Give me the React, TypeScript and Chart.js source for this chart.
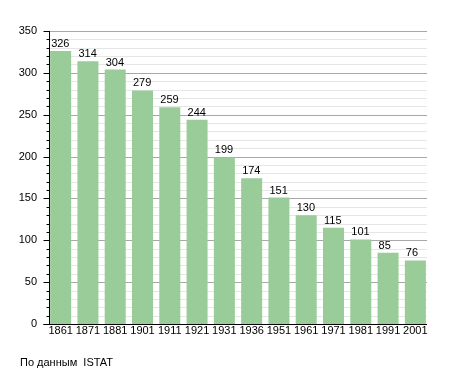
import React, { useEffect, useRef } from "react";
import { Chart, registerables } from "chart.js";

Chart.register(...registerables);

const years = ["1861", "1871", "1881", "1901", "1911", "1921", "1931", "1936", "1951", "1961", "1971", "1981", "1991", "2001"];
const population = [326, 314, 304, 279, 259, 244, 199, 174, 151, 130, 115, 101, 85, 76];
const yMin = 0;
const yMax = 350;
const yMajorStep = 50;
const yMinorStep = 10;
const sourceNote = "По данным  ISTAT";

const FONT = "'Liberation Sans', Arial, sans-serif";

const decorPlugin = {
  id: "decor",
  beforeDatasetsDraw(chart: any) {
    const { ctx } = chart;
    const y = chart.scales.y;
    const meta = chart.getDatasetMeta(0);
    const first = meta.data[0] as any;
    const last = meta.data[meta.data.length - 1] as any;
    const x0 = Math.round(first.x - first.width / 2);
    const x1 = Math.round(last.x + last.width / 2) + 1;
    ctx.save();
    ctx.lineWidth = 1;
    for (let v = yMin + yMinorStep; v <= yMax; v += yMinorStep) {
      const py = Math.round(y.getPixelForValue(v)) + 0.5;
      ctx.strokeStyle = v % yMajorStep === 0 ? "#a8a8a8" : "#e6e6e6";
      ctx.beginPath();
      ctx.moveTo(x0, py);
      ctx.lineTo(x1, py);
      ctx.stroke();
    }
    ctx.restore();
  },
  afterDatasetsDraw(chart: any) {
    const { ctx } = chart;
    const y = chart.scales.y;
    const meta = chart.getDatasetMeta(0);
    const first = meta.data[0] as any;
    const last = meta.data[meta.data.length - 1] as any;
    const ax = Math.round(first.x - first.width / 2) - 0.5;
    const x1 = Math.round(last.x + last.width / 2) + 1;
    const yb = Math.round(y.getPixelForValue(yMin)) + 0.5;
    const yt = Math.round(y.getPixelForValue(yMax));
    ctx.save();
    ctx.strokeStyle = "#000";
    ctx.lineWidth = 1;
    for (let v = yMin; v <= yMax; v += yMinorStep) {
      const py = Math.round(y.getPixelForValue(v)) + 0.5;
      const len = v % yMajorStep === 0 ? 6 : 3;
      ctx.beginPath();
      ctx.moveTo(ax - len, py);
      ctx.lineTo(ax, py);
      ctx.stroke();
    }
    ctx.beginPath();
    ctx.moveTo(ax, yt);
    ctx.lineTo(ax, yb);
    ctx.stroke();
    ctx.beginPath();
    ctx.moveTo(ax - 6, yb);
    ctx.lineTo(x1, yb);
    ctx.stroke();
    ctx.fillStyle = "#000";
    ctx.font = `11px ${FONT}`;
    ctx.textAlign = "left";
    ctx.textBaseline = "alphabetic";
    meta.data.forEach((bar: any, i: number) => {
      const left = bar.x - bar.width / 2;
      ctx.fillText(String(population[i]), left + 1, bar.y - 4);
    });
    ctx.restore();
  },
};

export default function App() {
  const ref = useRef<HTMLCanvasElement | null>(null);
  useEffect(() => {
    if (!ref.current) return;
    const chart = new Chart(ref.current, {
      type: "bar",
      data: {
        labels: years,
        datasets: [
          {
            data: population,
            backgroundColor: "#99cc99",
            borderWidth: 0,
            barPercentage: 0.77,
            categoryPercentage: 1,
          },
        ],
      },
      options: {
        animation: false,
        responsive: false,
        maintainAspectRatio: false,
        layout: { padding: { top: 31, right: 26, left: 0, bottom: 0 } },
        plugins: { legend: { display: false }, tooltip: { enabled: false }, title: { display: false } },
        scales: {
          x: {
            offset: true,
            grid: { display: false, drawTicks: false },
            border: { display: false },
            ticks: {
              color: "#000",
              font: { family: FONT, size: 11 },
              padding: 0,
              maxRotation: 0,
              autoSkip: false,
            },
            afterFit: (s: any) => {
              s.height = 49;
            },
          },
          y: {
            min: yMin,
            max: yMax,
            grid: { display: false, drawTicks: false },
            border: { display: false },
            ticks: {
              stepSize: yMajorStep,
              color: "#000",
              font: { family: FONT, size: 11 },
              padding: 10,
            },
            afterFit: (s: any) => {
              s.width = 47;
            },
          },
        },
      },
      plugins: [decorPlugin],
    });
    return () => chart.destroy();
  }, []);
  return (
    <div style={{ position: "fixed", left: 0, top: 0, width: 455, height: 373, background: "#fff" }}>
      <canvas ref={ref} width={455} height={373} style={{ display: "block" }} />
      <div
        style={{
          position: "absolute",
          left: 20,
          top: 356,
          fontFamily: FONT,
          fontSize: 11,
          color: "#000",
          whiteSpace: "pre",
          lineHeight: "13px",
        }}
      >
        {sourceNote}
      </div>
    </div>
  );
}
